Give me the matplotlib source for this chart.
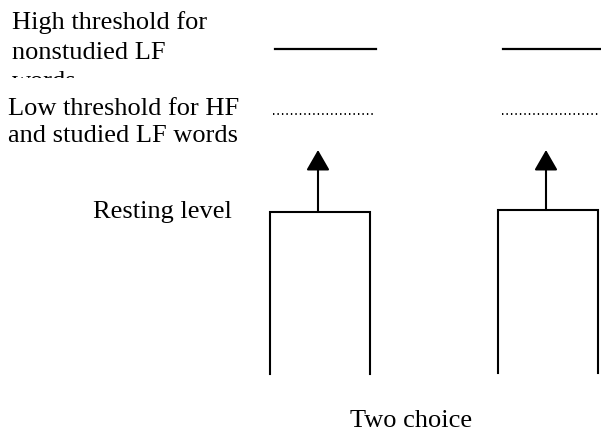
import matplotlib.pyplot as plt
from matplotlib.patches import Rectangle

# labels on the left side of the diagram
high_label = ["High threshold for", "nonstudied LF", "words"]
low_label = ["Low threshold for HF", "and studied LF words"]
rest_label = "Resting level"
task_label = "Two choice"

# two response units (left edge, right edge, top, bottom) in pixels
units_left = [270, 498]
units_right = [370, 598]
units_top = [212, 210]
units_bottom = [374, 373]

# threshold lines (x start, x end)
high_x0 = [275, 503]
high_x1 = [376, 601]
low_x0 = [273, 502]
low_x1 = [374, 600]
high_y = 48.5
low_y = 113.5
arrow_tip = 150

fig = plt.figure(figsize=(6.01, 4.32), dpi=100)
ax = fig.add_axes([0, 0, 1, 1])
ax.set_xlim(0, 601)
ax.set_ylim(432, 0)
ax.axis("off")

font = dict(family="Liberation Serif", fontsize=19, color="black")

# left-side labels
for i, line in enumerate(high_label):
    t = ax.text(12, 29.5 + i * 29.5, line, va="baseline", ha="left", **font)
    if i == 2:
        # the third line is cut off in the original figure
        clip = Rectangle((0, 0), 300, 78, transform=ax.transData)
        t.set_clip_path(clip)
        t.set_clip_on(True)
for i, line in enumerate(low_label):
    ax.text(8, 115 + i * 27, line, va="baseline", ha="left", **font)
ax.text(93, 218, rest_label, va="baseline", ha="left", **font)
ax.text(411, 427, task_label, va="baseline", ha="center", **font)

for i in range(2):
    l, r, t, b = units_left[i], units_right[i], units_top[i], units_bottom[i]
    # open box: two sides and the top
    ax.plot([l, l, r, r], [b, t, t, b], color="black", lw=1.5,
            solid_joinstyle="miter")
    # thresholds
    ax.plot([high_x0[i], high_x1[i]], [high_y, high_y], color="black", lw=1.6)
    ax.plot([low_x0[i], low_x1[i]], [low_y, low_y], color="black", lw=1.4,
            linestyle=(0, (0.7, 1.6)))
    # arrow from resting level up
    mid = (l + r) / 2 - 2
    ax.annotate("", xy=(mid, arrow_tip), xytext=(mid, t),
                arrowprops=dict(arrowstyle="-|>,head_length=1.25,head_width=0.72",
                                color="black", lw=1.5, shrinkA=0, shrinkB=0))

fig.savefig("out.png", dpi=100)
